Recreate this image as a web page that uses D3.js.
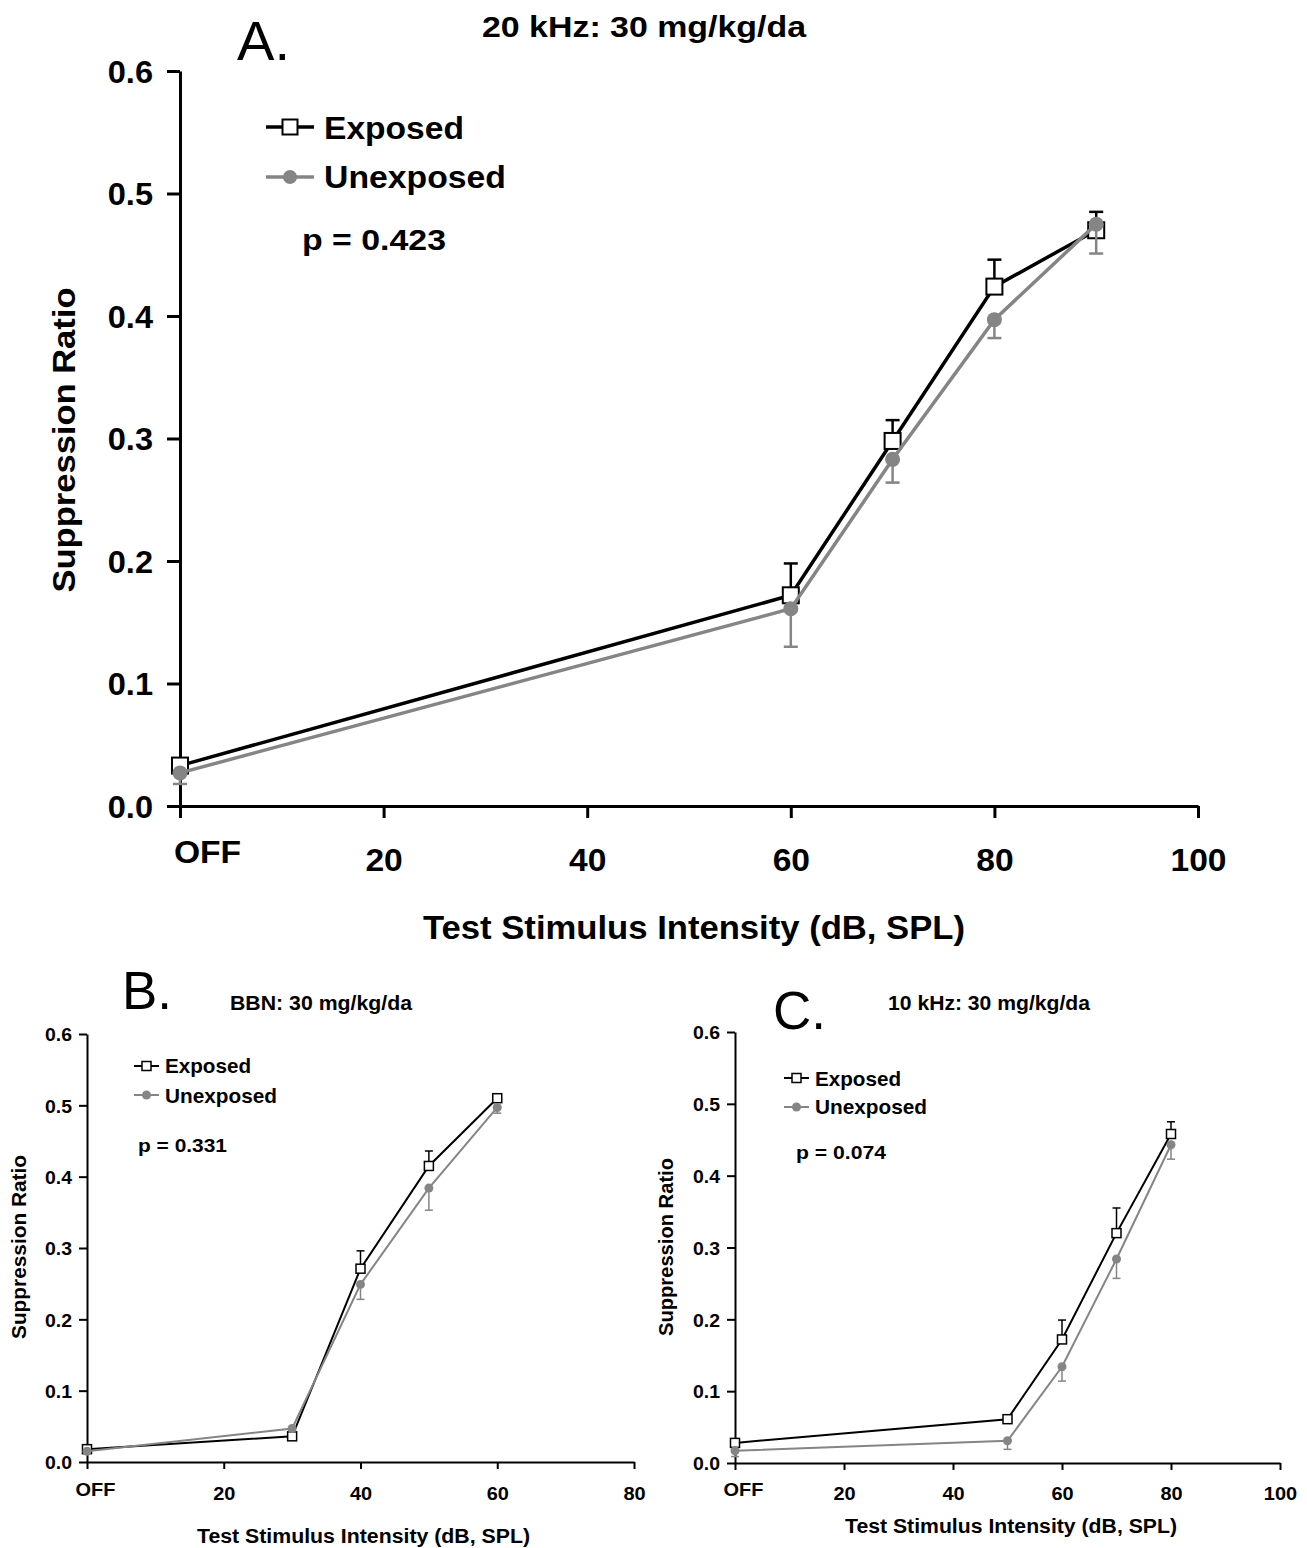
<!DOCTYPE html>
<html>
<head>
<meta charset="utf-8">
<script src="https://cdn.jsdelivr.net/npm/d3@7"></script>
<style>
  html, body { margin: 0; padding: 0; background: #fff; }
  svg { display: block; }
  text { font-family: "Liberation Sans", Arial, Helvetica, sans-serif; }
</style>
</head>
<body>
<svg id="chart" width="1307" height="1548"></svg>
<script>
// ---------------- DATA ----------------
const seriesNames = ["Exposed", "Unexposed"];
const yTickValues = [0, 0.1, 0.2, 0.3, 0.4, 0.5, 0.6];

// Panel A: 20 kHz
const titleA = "20 kHz: 30 mg/kg/da";
const pA = "p = 0.423";
const levelsA = [0, 60, 70, 80, 90];
const exposedA = [0.033, 0.172, 0.298, 0.424, 0.470];
const exposedErrA = [0.006, 0.026, 0.017, 0.022, 0.015];
const unexposedA = [0.027, 0.161, 0.283, 0.397, 0.475];
const unexposedErrA = [0.009, 0.031, 0.019, 0.015, 0.024];
const xTicksA = [0, 20, 40, 60, 80, 100];

// Panel B: BBN
const titleB = "BBN: 30 mg/kg/da";
const pB = "p = 0.331";
const levelsB = [0, 30, 40, 50, 60];
const exposedB = [0.018, 0.036, 0.271, 0.415, 0.510];
const exposedErrB = [0.003, 0.002, 0.025, 0.021, 0.004];
const unexposedB = [0.015, 0.047, 0.249, 0.384, 0.497];
const unexposedErrB = [0.004, 0.003, 0.021, 0.031, 0.008];
const xTicksB = [0, 20, 40, 60, 80];

// Panel C: 10 kHz
const titleC = "10 kHz: 30 mg/kg/da";
const pC = "p = 0.074";
const levelsC = [0, 50, 60, 70, 80];
const exposedC = [0.028, 0.061, 0.172, 0.320, 0.458];
const exposedErrC = [0.004, 0.002, 0.027, 0.035, 0.017];
const unexposedC = [0.017, 0.031, 0.134, 0.284, 0.443];
const unexposedErrC = [0.008, 0.012, 0.020, 0.027, 0.020];
const xTicksC = [0, 20, 40, 60, 80, 100];

const xTitle = "Test Stimulus Intensity (dB, SPL)";
const yTitle = "Suppression Ratio";
const offLabel = "OFF";

// ---------------- DRAWING ----------------
const svg = d3.select("#chart");
const BLACK = "#000";
const GRAY = "#858585";

function fitText(sel, width) {
  sel.each(function() {
    if (width) d3.select(this).attr("textLength", width).attr("lengthAdjust", "spacingAndGlyphs");
  });
}
function stretch(sel, f) {
  sel.each(function() {
    const w = this.getComputedTextLength();
    d3.select(this).attr("textLength", w * f).attr("lengthAdjust", "spacingAndGlyphs");
  });
}

function panel(cfg) {
  const g = svg.append("g");
  const x = d3.scaleLinear().domain(cfg.xDomain).range(cfg.xRange);
  const y = d3.scaleLinear().domain([0, 0.6]).range(cfg.yRange);

  // y axis
  const ya = g.append("g").attr("transform", `translate(${cfg.xRange[0]},0)`)
    .call(d3.axisLeft(y).tickValues(yTickValues).tickFormat(d3.format(".1f"))
      .tickSize(cfg.yTickLen).tickSizeOuter(0).tickPadding(cfg.yTickPad));
  ya.select(".domain").attr("stroke", BLACK).attr("stroke-width", cfg.axisW);
  ya.selectAll(".tick line").attr("stroke", BLACK).attr("stroke-width", cfg.axisW);
  ya.selectAll(".tick text").attr("font-size", cfg.tickFont).attr("font-weight", "bold")
    .attr("fill", BLACK).attr("dy", "0.36em").call(stretch, cfg.tickStretch);

  // x axis
  const xa = g.append("g").attr("transform", `translate(0,${cfg.yRange[0]})`)
    .call(d3.axisBottom(x).tickValues(cfg.xTicks).tickFormat(d => d === 0 ? offLabel : d)
      .tickSize(cfg.xTickLen).tickSizeOuter(0).tickPadding(cfg.xTickPad));
  xa.select(".domain").attr("stroke", BLACK).attr("stroke-width", cfg.axisW);
  xa.selectAll(".tick line").attr("stroke", BLACK).attr("stroke-width", cfg.axisW);
  xa.selectAll(".tick text").attr("font-size", cfg.xTickFont).attr("font-weight", "bold")
    .attr("fill", BLACK).call(stretch, cfg.tickStretch);
  xa.selectAll(".tick text").filter(d => d === 0)
    .attr("dx", cfg.offDx).attr("y", function() { return +d3.select(this).attr("y") - cfg.offDy; });

  // series
  const line = d3.line().x(d => x(d[0])).y(d => y(d[1]));
  const expPts = cfg.levels.map((l, i) => [l, cfg.exp[i], cfg.expErr[i]]);
  const unPts = cfg.levels.map((l, i) => [l, cfg.un[i], cfg.unErr[i]]);

  // exposed
  g.append("path").datum(expPts).attr("d", line).attr("fill", "none")
    .attr("stroke", BLACK).attr("stroke-width", cfg.lineW);
  const eb = g.append("g").selectAll("g").data(expPts).join("g");
  eb.append("line").attr("x1", d => x(d[0])).attr("x2", d => x(d[0]))
    .attr("y1", d => y(d[1])).attr("y2", d => y(d[1] + d[2]))
    .attr("stroke", BLACK).attr("stroke-width", cfg.errW);
  eb.append("line").attr("x1", d => x(d[0]) - cfg.cap / 2).attr("x2", d => x(d[0]) + cfg.cap / 2)
    .attr("y1", d => y(d[1] + d[2])).attr("y2", d => y(d[1] + d[2]))
    .attr("stroke", BLACK).attr("stroke-width", cfg.errW);
  g.append("g").selectAll("rect").data(expPts).join("rect")
    .attr("x", d => x(d[0]) - cfg.sq / 2).attr("y", d => y(d[1]) - cfg.sq / 2)
    .attr("width", cfg.sq).attr("height", cfg.sq)
    .attr("fill", "#fff").attr("stroke", BLACK).attr("stroke-width", cfg.markW);

  // unexposed
  g.append("path").datum(unPts).attr("d", line).attr("fill", "none")
    .attr("stroke", GRAY).attr("stroke-width", cfg.lineW);
  const ub = g.append("g").selectAll("g").data(unPts).join("g");
  ub.append("line").attr("x1", d => x(d[0])).attr("x2", d => x(d[0]))
    .attr("y1", d => y(d[1])).attr("y2", d => y(d[1] - d[2]))
    .attr("stroke", GRAY).attr("stroke-width", cfg.errW);
  ub.append("line").attr("x1", d => x(d[0]) - cfg.cap / 2).attr("x2", d => x(d[0]) + cfg.cap / 2)
    .attr("y1", d => y(d[1] - d[2])).attr("y2", d => y(d[1] - d[2]))
    .attr("stroke", GRAY).attr("stroke-width", cfg.errW);
  g.append("g").selectAll("circle").data(unPts).join("circle")
    .attr("cx", d => x(d[0])).attr("cy", d => y(d[1])).attr("r", cfg.r)
    .attr("fill", GRAY);

  // legend
  const L = cfg.legend;
  [0, 1].forEach(i => {
    const ly = L.ys[i];
    g.append("line").attr("x1", L.x0).attr("x2", L.x1).attr("y1", ly).attr("y2", ly)
      .attr("stroke", i === 0 ? BLACK : GRAY).attr("stroke-width", cfg.lineW);
    const cx = (L.x0 + L.x1) / 2;
    if (i === 0) {
      g.append("rect").attr("x", cx - L.sq / 2).attr("y", ly - L.sq / 2)
        .attr("width", L.sq).attr("height", L.sq).attr("fill", "#fff")
        .attr("stroke", BLACK).attr("stroke-width", cfg.markW);
    } else {
      g.append("circle").attr("cx", cx).attr("cy", ly).attr("r", L.r).attr("fill", GRAY);
    }
    g.append("text").attr("x", L.tx).attr("y", L.tys[i]).text(seriesNames[i])
      .attr("font-size", L.font).attr("font-weight", "bold").call(fitText, L.widths[i]);
  });

  // p value
  g.append("text").attr("x", cfg.p.x).attr("y", cfg.p.y).text(cfg.p.text)
    .attr("font-size", cfg.p.font).attr("font-weight", "bold").call(fitText, cfg.p.w);

  // panel letter
  g.append("text").attr("x", cfg.letter.x).attr("y", cfg.letter.y).text(cfg.letter.text)
    .attr("font-size", cfg.letter.font).call(fitText, cfg.letter.w);

  // title
  g.append("text").attr("x", cfg.title.x).attr("y", cfg.title.y).text(cfg.title.text)
    .attr("font-size", cfg.title.font).attr("font-weight", "bold").call(fitText, cfg.title.w);

  // axis titles
  g.append("text").attr("x", cfg.xt.x).attr("y", cfg.xt.y).text(xTitle)
    .attr("font-size", cfg.xt.font).attr("font-weight", "bold").call(fitText, cfg.xt.w);
  g.append("text").attr("transform", `translate(${cfg.yt.x},${cfg.yt.cy}) rotate(-90)`)
    .attr("text-anchor", "middle").text(yTitle)
    .attr("font-size", cfg.yt.font).attr("font-weight", "bold").call(fitText, cfg.yt.w);
}

// Panel A
panel({
  xDomain: [0, 100], xRange: [180, 1198], yRange: [806, 71], xTicks: xTicksA,
  levels: levelsA, exp: exposedA, expErr: exposedErrA, un: unexposedA, unErr: unexposedErrA,
  axisW: 3, lineW: 3.5, errW: 2.5, markW: 2, cap: 14, sq: 16, r: 7.5,
  yTickLen: 13, yTickPad: 14, tickFont: 31, xTickFont: 32, tickStretch: 1.05,
  xTickLen: 12, xTickPad: 30, offDx: 27, offDy: 8,
  legend: { x0: 266, x1: 314, ys: [127, 177], sq: 15, r: 7, tx: 324, tys: [139, 188], font: 32, widths: [140, 182] },
  p: { text: pA, x: 302, y: 250, font: 30, w: 144 },
  letter: { text: "A.", x: 237, y: 60, font: 55, w: 53 },
  title: { text: titleA, x: 482, y: 37, font: 30, w: 324 },
  xt: { x: 423, y: 939, font: 33, w: 542 },
  yt: { x: 75, cy: 440, font: 32, w: 305 }
});

// Panel B
panel({
  xDomain: [0, 80], xRange: [87, 634], yRange: [1462, 1034], xTicks: xTicksB,
  levels: levelsB, exp: exposedB, expErr: exposedErrB, un: unexposedB, unErr: unexposedErrB,
  axisW: 2, lineW: 2, errW: 1.5, markW: 1.5, cap: 8, sq: 9, r: 4.5,
  yTickLen: 8, yTickPad: 7, tickFont: 18.5, xTickFont: 19, tickStretch: 1.05,
  xTickLen: 7, xTickPad: 18, offDx: 8, offDy: 4,
  legend: { x0: 134, x1: 159, ys: [1066, 1095], sq: 9, r: 4.5, tx: 165, tys: [1073, 1103], font: 20.5, widths: [86, 112] },
  p: { text: pB, x: 138, y: 1152, font: 18.5, w: 89 },
  letter: { text: "B.", x: 122, y: 1009, font: 54, w: 50 },
  title: { text: titleB, x: 230, y: 1010, font: 19.5, w: 182 },
  xt: { x: 197, y: 1543, font: 20, w: 333 },
  yt: { x: 26, cy: 1247, font: 19.5, w: 184 }
});

// Panel C
panel({
  xDomain: [0, 100], xRange: [735, 1280], yRange: [1463, 1032], xTicks: xTicksC,
  levels: levelsC, exp: exposedC, expErr: exposedErrC, un: unexposedC, unErr: unexposedErrC,
  axisW: 2, lineW: 2, errW: 1.5, markW: 1.5, cap: 8, sq: 9, r: 4.5,
  yTickLen: 8, yTickPad: 7, tickFont: 18.5, xTickFont: 19, tickStretch: 1.05,
  xTickLen: 7, xTickPad: 17, offDx: 8, offDy: 4,
  legend: { x0: 784, x1: 809, ys: [1078, 1107], sq: 9, r: 4.5, tx: 815, tys: [1086, 1114], font: 20.5, widths: [86, 112] },
  p: { text: pC, x: 796, y: 1159, font: 18.5, w: 90 },
  letter: { text: "C.", x: 773, y: 1029, font: 54, w: 53 },
  title: { text: titleC, x: 888, y: 1010, font: 19.5, w: 202 },
  xt: { x: 845, y: 1533, font: 20, w: 332 },
  yt: { x: 673, cy: 1247, font: 19.5, w: 178 }
});
</script>
</body>
</html>
